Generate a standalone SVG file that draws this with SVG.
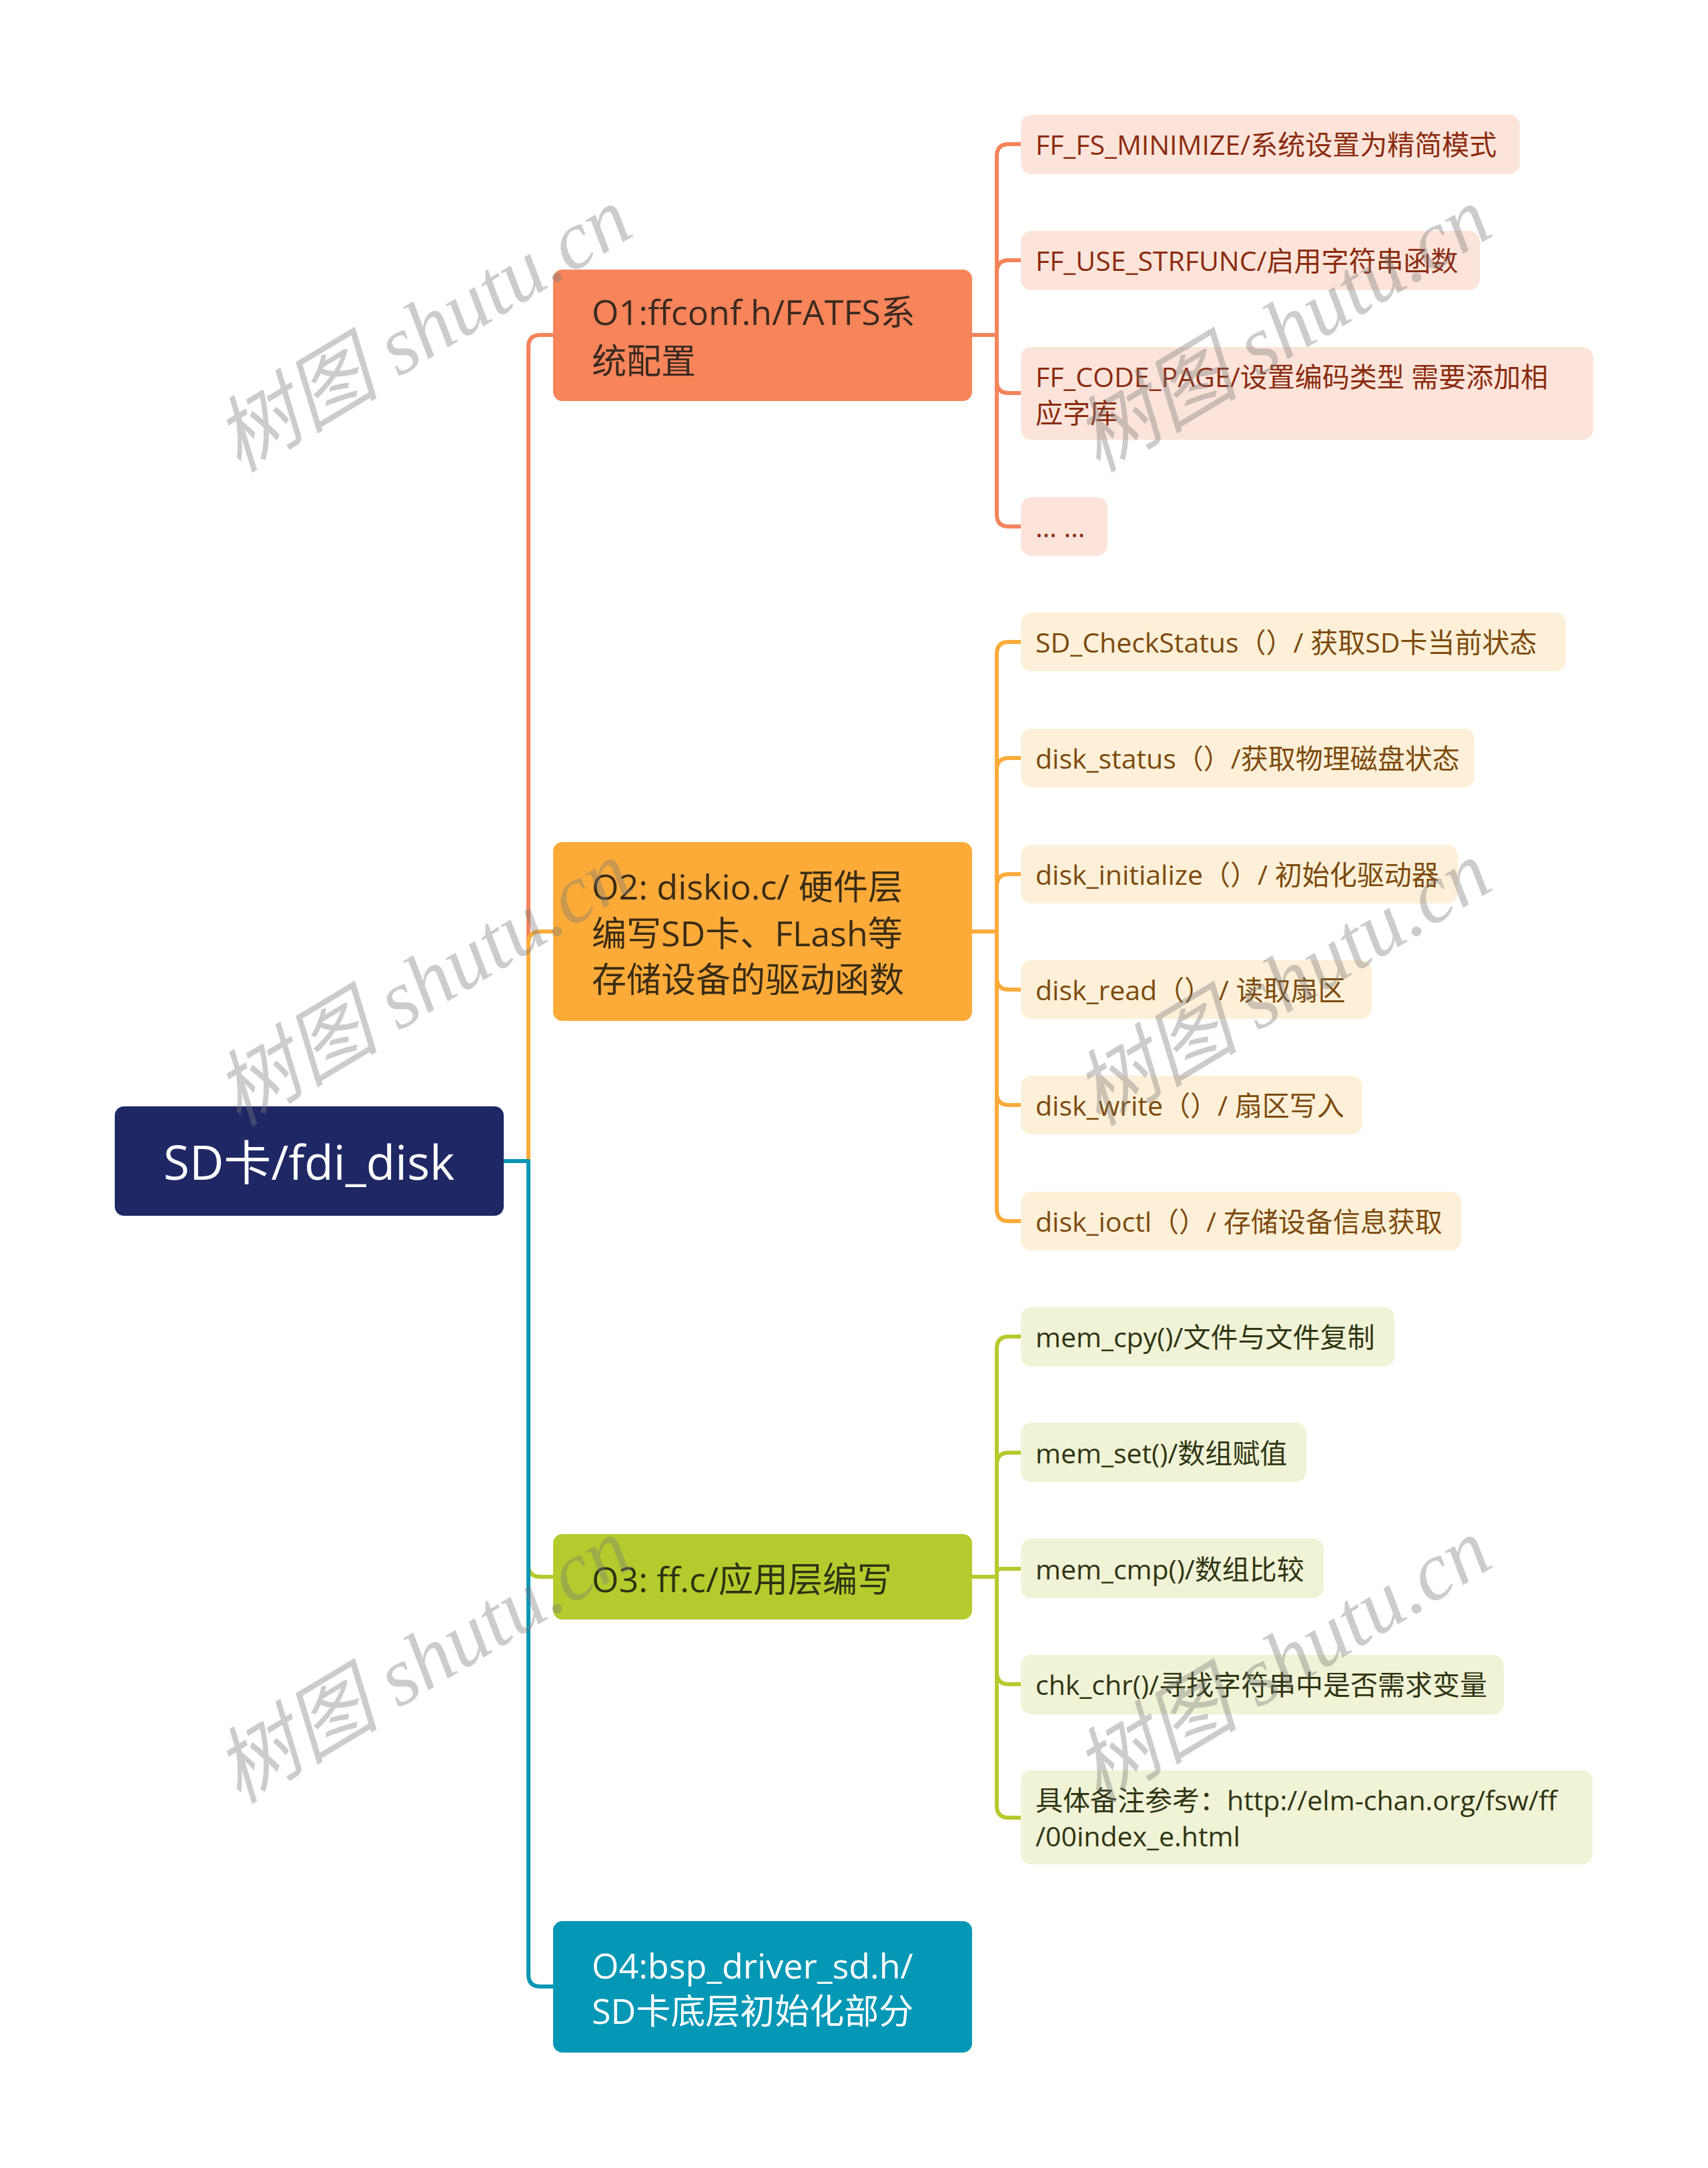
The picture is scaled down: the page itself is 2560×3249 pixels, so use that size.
<svg xmlns="http://www.w3.org/2000/svg" width="2560" height="3249" viewBox="0 0 2560 3249">
<style>
  text { font-family: "Open Sans", "Noto Sans CJK SC", sans-serif; dominant-baseline: central; }
  .l1 { font-size: 52px; }
  .l2 { font-size: 41px; }
  .wm { font-family: "Liberation Serif", "Noto Sans CJK SC", serif; font-size: 124px; font-style: italic; fill: #7a7a7a; opacity: 0.38; text-anchor: middle; dominant-baseline: auto; }
  .c { fill: none; stroke-width: 6; stroke-linecap: round; stroke-linejoin: round; }
  .c1 { stroke: #f5845c; } .c2 { stroke: #fbab3b; } .c3 { stroke: #b6c92f; } .c4 { stroke: #0a96b5; }
</style>
<rect width="2560" height="3249" fill="#ffffff"/>
<g id="connectors">
  <path class="c c1" d="M755,1740 H792 V520 Q792,502 810,502 H830"/>
  <path class="c c2" d="M755,1740 H792 V1414 Q792,1396 810,1396 H830"/>
  <path class="c c3" d="M755,1740 H792 V2345 Q792,2363 810,2363 H830"/>
  <path class="c c4" d="M755,1740 H792 V2959 Q792,2977 810,2977 H830"/>
  <path class="c c1" d="M1456,502 H1494 V234 Q1494,216 1512,216 H1531"/>
  <path class="c c1" d="M1456,502 H1494 V408 Q1494,390 1512,390 H1531"/>
  <path class="c c1" d="M1456,502 H1494 V571 Q1494,589 1512,589 H1531"/>
  <path class="c c1" d="M1456,502 H1494 V771 Q1494,789 1512,789 H1531"/>
  <path class="c c2" d="M1456,1396 H1494 V980 Q1494,962 1512,962 H1531"/>
  <path class="c c2" d="M1456,1396 H1494 V1154 Q1494,1136 1512,1136 H1531"/>
  <path class="c c2" d="M1456,1396 H1494 V1328 Q1494,1310 1512,1310 H1531"/>
  <path class="c c2" d="M1456,1396 H1494 V1465 Q1494,1483 1512,1483 H1531"/>
  <path class="c c2" d="M1456,1396 H1494 V1638 Q1494,1656 1512,1656 H1531"/>
  <path class="c c2" d="M1456,1396 H1494 V1812 Q1494,1830 1512,1830 H1531"/>
  <path class="c c3" d="M1456,2363 H1494 V2021 Q1494,2003 1512,2003 H1531"/>
  <path class="c c3" d="M1456,2363 H1494 V2195 Q1494,2177 1512,2177 H1531"/>
  <path class="c c3" d="M1456,2363 H1494 V2357 Q1494,2351 1500,2351 H1531"/>
  <path class="c c3" d="M1456,2363 H1494 V2506 Q1494,2524 1512,2524 H1531"/>
  <path class="c c3" d="M1456,2363 H1494 V2706 Q1494,2724 1512,2724 H1531"/>
</g>
<g id="root">
  <rect x="172" y="1658" width="583" height="164" rx="14" fill="#1f2865"/>
  <text x="245" y="1740" font-size="71" fill="#ffffff">SD卡/fdi_disk</text>
</g>
<g id="o1">
  <rect x="829" y="404" width="628" height="197" rx="14" fill="#f8845a"/>
  <text class="l1" x="887" y="466" fill="#3b2a20">O1:ffconf.h/FATFS系</text>
  <text class="l1" x="887" y="539" fill="#3b2a20">统配置</text>
</g>
<g id="o2">
  <rect x="829" y="1262" width="628" height="268" rx="14" fill="#fcab39"/>
  <text class="l1" x="887" y="1327" fill="#3b2c14">O2: diskio.c/ 硬件层</text>
  <text class="l1" x="887" y="1397" fill="#3b2c14">编写SD卡、FLash等</text>
  <text class="l1" x="887" y="1466" fill="#3b2c14">存储设备的驱动函数</text>
</g>
<g id="o3">
  <rect x="829" y="2299" width="628" height="128" rx="14" fill="#b5ca2c"/>
  <text class="l1" x="887" y="2365" fill="#2e3214">O3: ff.c/应用层编写</text>
</g>
<g id="o4">
  <rect x="829" y="2879" width="628" height="197" rx="14" fill="#0597b6"/>
  <text class="l1" x="887" y="2944" fill="#ffffff">O4:bsp_driver_sd.h/</text>
  <text class="l1" x="887" y="3012" fill="#ffffff">SD卡底层初始化部分</text>
</g>
<g id="o1-1"><rect x="1530" y="172" width="748" height="89" rx="16" fill="#fde4da"/><text class="l2" x="1552" y="216" fill="#8a2c0e">FF_FS_MINIMIZE/系统设置为精简模式</text></g>
<g id="o1-2"><rect x="1530" y="346" width="688" height="89" rx="16" fill="#fde4da"/><text class="l2" x="1552" y="390" fill="#8a2c0e">FF_USE_STRFUNC/启用字符串函数</text></g>
<g id="o1-3"><rect x="1530" y="520" width="858" height="139" rx="16" fill="#fde4da"/><text class="l2" x="1552" y="564" fill="#8a2c0e">FF_CODE_PAGE/设置编码类型 需要添加相</text><text class="l2" x="1552" y="618" fill="#8a2c0e">应字库</text></g>
<g id="o1-4"><rect x="1530" y="745" width="130" height="88" rx="16" fill="#fde4da"/><text class="l2" x="1552" y="789" fill="#8a2c0e">… …</text></g>
<g id="o2-1"><rect x="1530" y="918" width="817" height="88" rx="16" fill="#fef0d8"/><text class="l2" x="1552" y="962" fill="#7b4b0c">SD_CheckStatus（）/  获取SD卡当前状态</text></g>
<g id="o2-2"><rect x="1530" y="1092" width="680" height="88" rx="16" fill="#fef0d8"/><text class="l2" x="1552" y="1136" fill="#7b4b0c">disk_status（）/获取物理磁盘状态</text></g>
<g id="o2-3"><rect x="1530" y="1266" width="655" height="88" rx="16" fill="#fef0d8"/><text class="l2" x="1552" y="1310" fill="#7b4b0c">disk_initialize（）/ 初始化驱动器</text></g>
<g id="o2-4"><rect x="1530" y="1439" width="526" height="88" rx="16" fill="#fef0d8"/><text class="l2" x="1552" y="1483" fill="#7b4b0c">disk_read（）  /  读取扇区</text></g>
<g id="o2-5"><rect x="1530" y="1612" width="512" height="88" rx="16" fill="#fef0d8"/><text class="l2" x="1552" y="1656" fill="#7b4b0c">disk_write（）/ 扇区写入</text></g>
<g id="o2-6"><rect x="1530" y="1786" width="660" height="88" rx="16" fill="#fef0d8"/><text class="l2" x="1552" y="1830" fill="#7b4b0c">disk_ioctl（）/ 存储设备信息获取</text></g>
<g id="o3-1"><rect x="1530" y="1959" width="560" height="89" rx="16" fill="#f0f3d6"/><text class="l2" x="1552" y="2003" fill="#2f3512">mem_cpy()/文件与文件复制</text></g>
<g id="o3-2"><rect x="1530" y="2132" width="428" height="89" rx="16" fill="#f0f3d6"/><text class="l2" x="1552" y="2177" fill="#2f3512">mem_set()/数组赋值</text></g>
<g id="o3-3"><rect x="1530" y="2306" width="454" height="89" rx="16" fill="#f0f3d6"/><text class="l2" x="1552" y="2351" fill="#2f3512">mem_cmp()/数组比较</text></g>
<g id="o3-4"><rect x="1530" y="2480" width="724" height="89" rx="16" fill="#f0f3d6"/><text class="l2" x="1552" y="2524" fill="#2f3512">chk_chr()/寻找字符串中是否需求变量</text></g>
<g id="o3-5"><rect x="1530" y="2653" width="857" height="141" rx="16" fill="#f0f3d6"/><text class="l2" x="1552" y="2697" fill="#2f3512">具体备注参考：http://elm-chan.org/fsw/ff</text><text class="l2" x="1552" y="2751" fill="#2f3512">/00index_e.html</text></g>
<g id="watermarks">
  <text class="wm" transform="translate(656,530) rotate(-31)">树图 shutu.cn</text>
  <text class="wm" transform="translate(1944,530) rotate(-31)">树图 shutu.cn</text>
  <text class="wm" transform="translate(656,1510) rotate(-31)">树图 shutu.cn</text>
  <text class="wm" transform="translate(1944,1510) rotate(-31)">树图 shutu.cn</text>
  <text class="wm" transform="translate(656,2525) rotate(-31)">树图 shutu.cn</text>
  <text class="wm" transform="translate(1944,2525) rotate(-31)">树图 shutu.cn</text>
</g>
</svg>
